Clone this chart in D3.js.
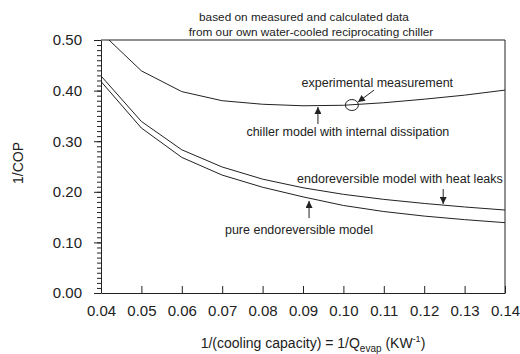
<!DOCTYPE html>
<html>
<head>
<meta charset="utf-8">
<script src="https://cdn.jsdelivr.net/npm/d3@7"></script>
<style>
  body { margin: 0; background: #fff; }
  svg { display: block; font-family: "Liberation Sans", Arial, sans-serif; }
</style>
</head>
<body>
<svg width="520" height="354"></svg>
<script>
// x values: 1/(cooling capacity)
const xs = [0.04, 0.05, 0.06, 0.07, 0.08, 0.09, 0.10, 0.11, 0.12, 0.13, 0.14];
// 1/COP
const chillerModel = [0.515, 0.439, 0.398, 0.380, 0.373, 0.370, 0.371, 0.376, 0.383, 0.391, 0.401];
const heatLeaks = [0.429, 0.339, 0.283, 0.249, 0.225, 0.208, 0.195, 0.185, 0.177, 0.170, 0.164];
const pureEndo = [0.418, 0.326, 0.268, 0.233, 0.209, 0.190, 0.173, 0.161, 0.152, 0.145, 0.139];
const measured = [{ x: 0.1021, y: 0.3715 }];

const xTicks = [0.04, 0.05, 0.06, 0.07, 0.08, 0.09, 0.10, 0.11, 0.12, 0.13, 0.14];
const yTicks = [0.0, 0.1, 0.2, 0.3, 0.4, 0.5];
const yMinor = d3.range(0, 51).map(i => i / 100);

// labels with arrows (data coordinates)
const notes = [
  { text: "experimental measurement", x: 0.1084, y: 0.415, from: [0.1076, 0.401], to: [0.1036, 0.3775] },
  { text: "chiller model with internal dissipation", x: 0.1011, y: 0.318, from: [0.0937, 0.334], to: [0.0937, 0.3676] },
  { text: "endoreversible model with heat leaks", x: 0.114, y: 0.227, from: [0.1247, 0.2055], to: [0.1247, 0.176] },
  { text: "pure endoreversible model", x: 0.089, y: 0.1245, from: [0.0915, 0.148], to: [0.0915, 0.182] }
];

const padL = 101, padR = 505, padT = 40, padB = 293;
const ink = "#222";

const svg = d3.select("svg");

const x = d3.scaleLinear().domain([0.04, 0.14]).range([padL, padR]);
const y = d3.scaleLinear().domain([0, 0.5]).range([padB, padT]);

const defs = svg.append("defs");
defs.append("clipPath").attr("id", "plot")
  .append("rect").attr("x", padL).attr("y", padT)
  .attr("width", padR - padL).attr("height", padB - padT);

defs.append("marker")
  .attr("id", "head")
  .attr("viewBox", "0 0 10 10")
  .attr("refX", 10).attr("refY", 5)
  .attr("markerWidth", 8).attr("markerHeight", 7)
  .attr("markerUnits", "userSpaceOnUse")
  .attr("orient", "auto")
  .append("path").attr("d", "M0,0 L10,5 L0,10 z").attr("fill", ink);

// frame: top and right
svg.append("line").attr("x1", padL).attr("x2", padR).attr("y1", padT).attr("y2", padT)
  .attr("stroke", ink).attr("stroke-width", 1);
svg.append("line").attr("x1", padR).attr("x2", padR).attr("y1", padT).attr("y2", padB)
  .attr("stroke", ink).attr("stroke-width", 1);

// y minor ticks
svg.append("g")
  .attr("transform", `translate(${padL},0)`)
  .call(d3.axisLeft(y).tickValues(yMinor).tickSize(4).tickFormat(""))
  .call(g => g.select(".domain").remove())
  .selectAll("line").attr("stroke", ink);

// y axis
svg.append("g")
  .attr("transform", `translate(${padL},0)`)
  .call(d3.axisLeft(y).tickValues(yTicks).tickFormat(d3.format(".2f"))
    .tickSize(7).tickSizeOuter(0).tickPadding(12))
  .call(g => g.select(".domain").attr("stroke", ink))
  .call(g => g.selectAll("line").attr("stroke", ink))
  .selectAll("text")
  .attr("fill", ink)
  .style("font-size", "15px")
  .style("font-family", "'Liberation Sans', Arial, sans-serif");

// x axis, ticks pointing inward
svg.append("g")
  .attr("transform", `translate(0,${padB})`)
  .call(d3.axisBottom(x).tickValues(xTicks).tickFormat(d3.format(".2f"))
    .tickSize(-7).tickSizeOuter(0).tickPadding(12))
  .call(g => g.select(".domain").attr("stroke", ink))
  .call(g => g.selectAll("line").attr("stroke", ink))
  .selectAll("text")
  .attr("fill", ink)
  .style("font-size", "15px")
  .style("font-family", "'Liberation Sans', Arial, sans-serif");

// curves
const line = d3.line().x(d => x(d[0])).y(d => y(d[1]));
const curves = svg.append("g").attr("clip-path", "url(#plot)");
[chillerModel, heatLeaks, pureEndo].forEach(vals => {
  curves.append("path")
    .datum(xs.map((v, i) => [v, vals[i]]))
    .attr("d", line)
    .attr("fill", "none")
    .attr("stroke", ink)
    .attr("stroke-width", 1);
});

// measured point
svg.selectAll(".meas")
  .data(measured)
  .enter()
  .append("ellipse")
  .attr("class", "meas")
  .attr("cx", d => x(d.x))
  .attr("cy", d => y(d.y))
  .attr("rx", 6.5)
  .attr("ry", 5.5)
  .attr("fill", "none")
  .attr("stroke", ink)
  .attr("stroke-width", 1);

// annotations
notes.forEach(n => {
  svg.append("text")
    .attr("x", x(n.x))
    .attr("y", y(n.y))
    .attr("dy", "0.35em")
    .attr("text-anchor", "middle")
    .attr("fill", ink)
    .style("font-size", "12.5px")
    .text(n.text);
  svg.append("line")
    .attr("x1", x(n.from[0])).attr("y1", y(n.from[1]))
    .attr("x2", x(n.to[0])).attr("y2", y(n.to[1]))
    .attr("stroke", ink)
    .attr("stroke-width", 1)
    .attr("marker-end", "url(#head)");
});

// title lines
svg.append("text")
  .attr("x", 304).attr("y", 17).attr("dy", "0.35em")
  .attr("text-anchor", "middle").attr("fill", ink)
  .style("font-size", "11.8px")
  .text("based on measured and calculated data");
svg.append("text")
  .attr("x", 311).attr("y", 32).attr("dy", "0.35em")
  .attr("text-anchor", "middle").attr("fill", ink)
  .style("font-size", "11.8px")
  .text("from our own water-cooled reciprocating chiller");

// y label
svg.append("text")
  .attr("transform", "rotate(-90)")
  .attr("x", -163)
  .attr("y", 18)
  .attr("dy", "0.35em")
  .attr("text-anchor", "middle")
  .attr("fill", ink)
  .style("font-size", "14px")
  .text("1/COP");

// x label
const xl = svg.append("text")
  .attr("x", 313)
  .attr("y", 348)
  .attr("text-anchor", "middle")
  .attr("fill", ink)
  .style("font-size", "14px");
xl.append("tspan").text("1/(cooling capacity) = 1/Q");
xl.append("tspan").attr("dy", 4).style("font-size", "10px").text("evap");
xl.append("tspan").attr("dy", -4).text("  (KW");
xl.append("tspan").attr("dy", -6).style("font-size", "9px").text("-1");
xl.append("tspan").attr("dy", 6).text(")");
</script>
</body>
</html>
